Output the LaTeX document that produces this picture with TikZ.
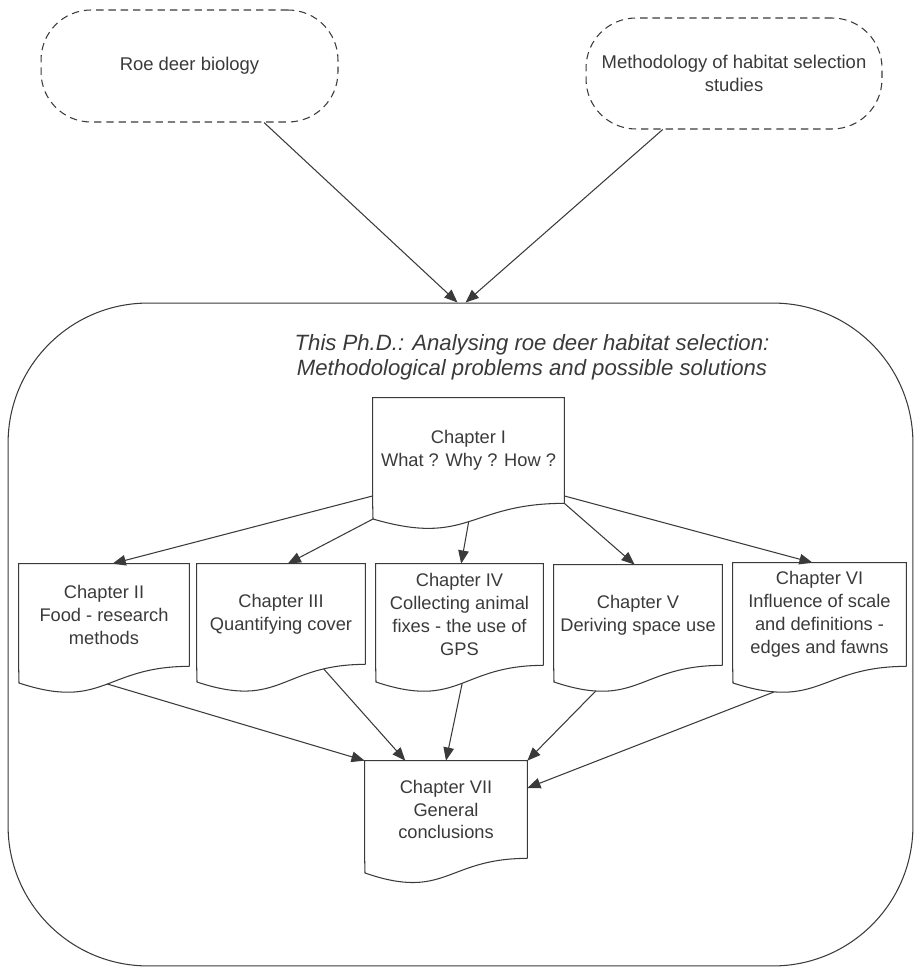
\documentclass[tikz,border=0pt]{standalone}
\usepackage{fontspec}
\setmainfont{Liberation Sans}
\usetikzlibrary{arrows.meta,calc}
\definecolor{ink}{HTML}{3A3A3A}
\tikzset{
  chap/.style={rectangle, draw=none, inner sep=0pt, align=center, text=ink,
    font=\fontsize{10.4}{13}\selectfont},
  outline/.style={draw=ink, line width=0.6pt},
  cloudbox/.style={rectangle, draw=ink, line width=0.6pt, dash pattern=on 4.2pt off 2.8pt,
    rounded corners=1cm, inner sep=0pt, align=center, text=ink,
    font=\fontsize{10.5}{13}\selectfont},
  arr/.style={draw=ink, line width=0.6pt, -{Triangle[length=7.5pt,width=6pt]}},
}
% #1 name, #2 left, #3 top, #4 right, #5 right-bottom y, #6 left-bottom y, #7 pos of exit point, #8 text
\newcommand\chapbox[8]{%
  \node[chap, minimum width={(#4-#2)*0.02cm}, minimum height={(#5-#3)*0.02cm}]
    (#1) at ({(#2+#4)/2},{(#3+#5)/2}) {#8};
  \draw[outline] (#1.south east) -- (#1.north east) -- (#1.north west) -- (#1.south west)
    -- (#2,#6) coordinate (#1-bl)
    .. controls +({(#4-#2)*0.5},28) and +({-(#4-#2)*0.5},0) ..
    coordinate[pos=#7] (#1-out) (#1.south east);
}
\begin{document}
\begin{tikzpicture}[x=0.02cm,y=-0.02cm]
\useasboundingbox (0,0) rectangle (916,969);

% outer boxes
\node[cloudbox, minimum width=5.94cm, minimum height=2.24cm] (roe) at (189.5,66) {Roe deer biology};
\node[cloudbox, minimum width=5.92cm, minimum height=2.22cm] (meth) at (734,73.5)
  {Methodology of habitat selection\\studies};

\node[draw=ink, line width=0.6pt, rounded corners=2.8cm, minimum width=18.1cm,
  minimum height=13.26cm, inner sep=0pt] (phd) at (460.5,634.5) {};
\node[align=center, text=ink, font=\itshape\fontsize{12.6}{14.2}\selectfont] (title) at (532,357)
  {This Ph.D.: Analysing roe deer habitat selection:\\Methodological problems and possible solutions};

% chapters
\chapbox{c1}{373}{398}{564}{503}{519}{0.5}{Chapter I\\What ? Why ? How ?}
\chapbox{c2}{19}{564}{189}{666}{683}{0.525}{Chapter II\\Food - research\\methods}
\chapbox{c3}{197}{564}{365}{664}{682}{0.8}{Chapter III\\Quantifying cover}
\chapbox{c4}{376}{564}{543}{665}{682}{0.52}{Chapter IV\\Collecting animal\\fixes - the use of\\GPS}
\chapbox{c5}{554}{565}{722}{665}{682}{0.2}{Chapter V\\Deriving space use}
\chapbox{c6}{733}{563}{906}{666}{683}{0.19}{Chapter VI\\Influence of scale\\and definitions -\\edges and fawns}
\chapbox{c7}{365}{761}{527}{858}{873}{0.5}{Chapter VII\\General\\conclusions}

% connectors into the Ph.D. box
\draw[arr] ($(roe.south west)!0.75!(roe.south east)$) -- ($(phd.north)+(-3,0)$);
\draw[arr] ($(meth.south west)!0.26!(meth.south east)$) -- ($(phd.north)+(5,0)$);

% from chapter I
\draw[arr] ($(c1.north west)!0.93!(c1.south west)$) -- ($(c2.north west)!0.55!(c2.north east)$);
\draw[arr] (c1-bl) -- ($(c3.north west)!0.54!(c3.north east)$);
\draw[arr] (c1-out) -- ($(c4.north west)!0.51!(c4.north east)$);
\draw[arr] (c1.south east) -- ($(c5.north west)!0.48!(c5.north east)$);
\draw[arr] ($(c1.north east)!0.93!(c1.south east)$) -- ($(c6.north west)!0.46!(c6.north east)$);

% into chapter VII
\draw[arr] (c2-out) -- (c7.north west);
\draw[arr] (c3-out) -- ($(c7.north west)!0.25!(c7.north east)$);
\draw[arr] (c4-out) -- (c7.north);
\draw[arr] (c5-out) -- (c7.north east);
\draw[arr] (c6-out) -- ($(c7.north east)!0.28!(c7.south east)$);
\end{tikzpicture}
\end{document}
